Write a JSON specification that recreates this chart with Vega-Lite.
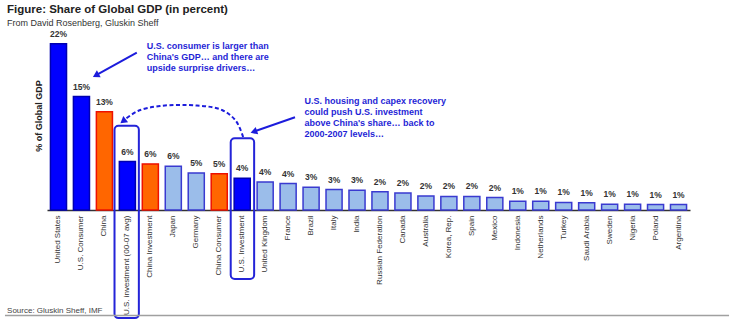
{
  "$schema": "https://vega.github.io/schema/vega-lite/v6.json",
  "width": 643,
  "height": 189,
  "autosize": {"type": "none"},
  "padding": {"left": 47, "top": 21, "right": 46, "bottom": 112},
  "background": "white",
  "config": {"view": {"stroke": null}, "font": "Liberation Sans"},
  "title": {
    "text": "Figure: Share of Global GDP (in percent)",
    "subtitle": "From David Rosenberg, Gluskin Sheff",
    "anchor": "start",
    "frame": "group",
    "dx": -40,
    "offset": -7,
    "fontSize": 11.5,
    "fontWeight": "bold",
    "color": "#222222",
    "subtitleFontSize": 9,
    "subtitleColor": "#333333",
    "subtitlePadding": 4
  },
  "datasets": {
    "gdp": [
      {"country": "United States", "v": 22, "label": "22%", "grp": "us"},
      {"country": "U.S. Consumer", "v": 15, "label": "15%", "grp": "us"},
      {"country": "China", "v": 13, "label": "13%", "grp": "china"},
      {"country": "U.S. investment (00-07 avg)", "v": 6.4, "label": "6%", "grp": "us"},
      {"country": "China Investment", "v": 6.1, "label": "6%", "grp": "china"},
      {"country": "Japan", "v": 5.8, "label": "6%", "grp": "other"},
      {"country": "Germany", "v": 4.9, "label": "5%", "grp": "other"},
      {"country": "China Consumer", "v": 4.8, "label": "5%", "grp": "china"},
      {"country": "U.S. Investment", "v": 4.2, "label": "4%", "grp": "us"},
      {"country": "United Kingdom", "v": 3.7, "label": "4%", "grp": "other"},
      {"country": "France", "v": 3.5, "label": "4%", "grp": "other"},
      {"country": "Brazil", "v": 3.0, "label": "3%", "grp": "other"},
      {"country": "Italy", "v": 2.7, "label": "3%", "grp": "other"},
      {"country": "India", "v": 2.6, "label": "3%", "grp": "other"},
      {"country": "Russian Federation", "v": 2.4, "label": "2%", "grp": "other"},
      {"country": "Canada", "v": 2.25, "label": "2%", "grp": "other"},
      {"country": "Australia", "v": 1.85, "label": "2%", "grp": "other"},
      {"country": "Korea, Rep.", "v": 1.8, "label": "2%", "grp": "other"},
      {"country": "Spain", "v": 1.8, "label": "2%", "grp": "other"},
      {"country": "Mexico", "v": 1.65, "label": "2%", "grp": "other"},
      {"country": "Indonesia", "v": 1.15, "label": "1%", "grp": "other"},
      {"country": "Netherlands", "v": 1.15, "label": "1%", "grp": "other"},
      {"country": "Turkey", "v": 1.0, "label": "1%", "grp": "other"},
      {"country": "Saudi Arabia", "v": 0.95, "label": "1%", "grp": "other"},
      {"country": "Sweden", "v": 0.75, "label": "1%", "grp": "other"},
      {"country": "Nigeria", "v": 0.75, "label": "1%", "grp": "other"},
      {"country": "Poland", "v": 0.72, "label": "1%", "grp": "other"},
      {"country": "Argentina", "v": 0.72, "label": "1%", "grp": "other"}
    ],
    "boxes": [
      {"xi": 2.94, "xi2": 4.0, "v": 11.15, "v2": -14.3},
      {"xi": 8.0, "xi2": 9.02, "v": 9.48, "v2": -9.13}
    ],
    "arrows": [
      {"id": "a1", "ord": 1, "xi": 3.91, "v": 20.81},
      {"id": "a1", "ord": 2, "xi": 2.2, "v": 17.93},
      {"id": "a2", "ord": 1, "xi": 10.8, "v": 12.26},
      {"id": "a2", "ord": 2, "xi": 9.08, "v": 10.45}
    ],
    "curve": [
      {"ord": 1, "xi": 8.54, "v": 9.66},
      {"ord": 2, "xi": 8.23, "v": 11.77},
      {"ord": 3, "xi": 7.62, "v": 13.23},
      {"ord": 4, "xi": 6.53, "v": 13.82},
      {"ord": 5, "xi": 4.92, "v": 13.76},
      {"ord": 6, "xi": 3.96, "v": 13.1},
      {"ord": 7, "xi": 3.45, "v": 12.1}
    ],
    "heads": [
      {"xi": 2.17, "v": 17.88, "ang": 241},
      {"xi": 9.05, "v": 10.4, "ang": 251},
      {"xi": 3.35, "v": 11.84, "ang": 232}
    ],
    "notes": [
      {"xi": 4.34, "v": 22.2, "txt": "U.S. consumer is larger than\nChina's GDP… and there are\nupside surprise drivers…"},
      {"xi": 11.21, "v": 14.97, "txt": "U.S. housing and capex recovery\ncould push U.S. investment\nabove China's share… back to\n2000-2007 levels…"}
    ],
    "source": [
      {"xi": -1.74, "v": -13.62, "txt": "Source: Gluskin Sheff, IMF"}
    ],
    "baseline": [
      {"xi": -1.83, "xi2": 29.7, "v": -13.96}
    ]
  },
  "layer": [
    {
      "layer": [
        {
          "data": {"name": "gdp"},
          "mark": {"type": "bar", "strokeWidth": 1.5},
          "encoding": {
            "x": {
              "field": "country", "type": "nominal", "sort": null,
              "scale": {"paddingInner": 0.3, "paddingOuter": 0.15},
              "axis": {"title": null, "labelAngle": -90, "labelFontSize": 8, "labelColor": "#333333", "ticks": false, "domainColor": "#333333", "domainWidth": 1.5, "labelPadding": 5, "labelLimit": 200}
            },
            "y": {
              "field": "v", "type": "quantitative",
              "scale": {"domain": [0, 25], "nice": false, "zero": true},
              "axis": {"title": "% of Global GDP", "labels": false, "ticks": false, "domain": false, "grid": false, "titleFontSize": 9, "titleFontWeight": "bold", "titleColor": "#222222", "titlePadding": 4}
            },
            "fill": {"field": "grp", "type": "nominal", "scale": {"domain": ["us", "china", "other"], "range": ["#0000ff", "#ff6600", "#9bbdea"]}, "legend": null},
            "stroke": {"field": "grp", "type": "nominal", "scale": {"domain": ["us", "china", "other"], "range": ["#0000b0", "#ee1100", "#3a3ad0"]}, "legend": null}
          }
        },
        {
          "data": {"name": "gdp"},
          "mark": {"type": "text", "dy": -7, "fontSize": 8.5, "fontWeight": "bold", "color": "#333333", "baseline": "alphabetic"},
          "encoding": {
            "x": {"field": "country", "type": "nominal", "sort": null},
            "y": {"field": "v", "type": "quantitative"},
            "text": {"field": "label"}
          }
        }
      ]
    },
    {
      "layer": [
        {
          "data": {"name": "boxes"},
          "mark": {"type": "rect", "filled": false, "stroke": "#2424d8", "strokeWidth": 2, "cornerRadius": 4},
          "encoding": {
            "x": {"field": "xi", "type": "quantitative", "scale": {"domain": [0, 28], "nice": false, "zero": false}, "axis": null},
            "x2": {"field": "xi2"},
            "y": {"field": "v", "type": "quantitative"},
            "y2": {"field": "v2"}
          }
        },
        {
          "data": {"name": "arrows"},
          "mark": {"type": "line", "color": "#1c1cdc", "strokeWidth": 2},
          "encoding": {
            "x": {"field": "xi", "type": "quantitative", "axis": null},
            "y": {"field": "v", "type": "quantitative"},
            "detail": {"field": "id"},
            "order": {"field": "ord"}
          }
        },
        {
          "data": {"name": "curve"},
          "mark": {"type": "line", "color": "#1c1cdc", "strokeWidth": 2, "strokeDash": [4, 2.5], "interpolate": "catmull-rom"},
          "encoding": {
            "x": {"field": "xi", "type": "quantitative", "axis": null},
            "y": {"field": "v", "type": "quantitative"},
            "order": {"field": "ord"}
          }
        },
        {
          "data": {"name": "heads"},
          "mark": {"type": "point", "shape": "triangle", "filled": true, "color": "#1c1cdc", "size": 60, "opacity": 1},
          "encoding": {
            "x": {"field": "xi", "type": "quantitative", "axis": null},
            "y": {"field": "v", "type": "quantitative"},
            "angle": {"field": "ang", "type": "quantitative", "scale": null}
          }
        },
        {
          "data": {"name": "notes"},
          "mark": {"type": "text", "align": "left", "baseline": "top", "fontSize": 9, "fontWeight": "bold", "color": "#1f1fd6", "lineBreak": "\n", "lineHeight": 11},
          "encoding": {
            "x": {"field": "xi", "type": "quantitative", "axis": null},
            "y": {"field": "v", "type": "quantitative"},
            "text": {"field": "txt"}
          }
        },
        {
          "data": {"name": "source"},
          "mark": {"type": "text", "align": "left", "baseline": "alphabetic", "fontSize": 8, "color": "#444444"},
          "encoding": {
            "x": {"field": "xi", "type": "quantitative", "axis": null},
            "y": {"field": "v", "type": "quantitative"},
            "text": {"field": "txt"}
          }
        },
        {
          "data": {"name": "baseline"},
          "mark": {"type": "rule", "color": "#a0a0a0", "strokeWidth": 1.5},
          "encoding": {
            "x": {"field": "xi", "type": "quantitative", "axis": null},
            "x2": {"field": "xi2"},
            "y": {"field": "v", "type": "quantitative"}
          }
        }
      ]
    }
  ],
  "resolve": {"scale": {"x": "independent"}}
}
